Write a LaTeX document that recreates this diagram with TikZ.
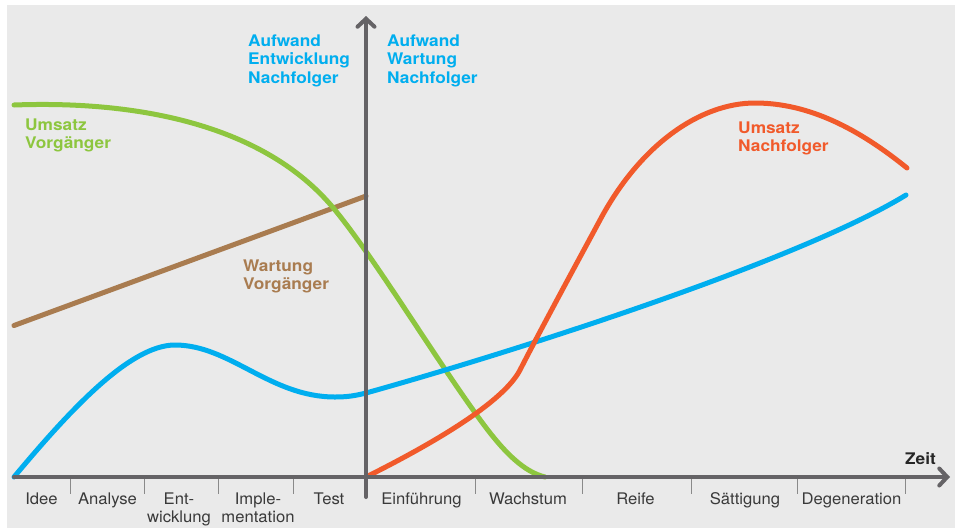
\documentclass[tikz,border=0pt]{standalone}
\usepackage{fontspec}
\setmainfont{TeX Gyre Heros}[FakeStretch=1.04, BoldFeatures={FakeStretch=1.08}]
\usetikzlibrary{arrows.meta}
\definecolor{bgc}{HTML}{EAEAEA}
\definecolor{axc}{HTML}{656366}
\definecolor{tickc}{HTML}{8A8A8A}
\definecolor{txtc}{HTML}{3A3A3A}
\definecolor{grn}{HTML}{8DC63F}
\definecolor{blu}{HTML}{00AEEF}
\definecolor{org}{HTML}{F15A2B}
\definecolor{brn}{HTML}{A97C50}
\tikzset{
  curve/.style={line width=5pt, line cap=round, line join=round},
  axisline/.style={draw=axc, line width=4pt, line cap=round},
  tickline/.style={draw=tickc, line width=1pt},
  phase/.style={font=\fontsize{16}{17.5}\selectfont, text=txtc, align=center, anchor=base, inner sep=0pt},
  lab/.style={font=\bfseries\fontsize{16}{18.5}\selectfont, align=left, anchor=base west, inner sep=0pt},
}
\begin{document}
\begin{tikzpicture}[x=1pt,y=-1pt]
\useasboundingbox (0,0) rectangle (960,528);
\fill[bgc] (7,5) rectangle (955,528);

% curves
\draw[curve, brn] (14,325.5) -- (366,196);
\draw[curve, grn] (14,105) .. controls (150,100) and (270,130) .. (335,210)
  .. controls (375,259) and (430,350) .. (476,414)
  .. controls (505,455) and (525,472) .. (545,477);
\draw[curve, blu] (14,477) .. controls (70,410) and (130,345) .. (175,345)
  .. controls (230,345) and (270,397) .. (335,397)
  .. controls (348,397) and (356,395.5) .. (366,393)
  .. controls (520,350) and (800,260) .. (906,195);
\draw[curve, org] (366,477) .. controls (430,445) and (503,403) .. (520,370)
  .. controls (543,325) and (585,248) .. (600,220)
  .. controls (640,145) and (700,103) .. (755,103)
  .. controls (810,103) and (860,130) .. (907,168);

% ticks
\foreach \x in {70.5,144.5,218.5,293,475,582,691,797.5,905}
  \draw[tickline] (\x,478) -- (\x,494);

% axes
\coordinate (o) at (366,477);
\coordinate (xs) at (14,477);
\coordinate (xe) at (950,477);
\coordinate (ys) at (366,497);
\coordinate (ye) at (366,16);
\draw[axisline, -{Straight Barb[length=8pt,width=17pt,line cap=round]}] (xs) -- (xe);
\draw[axisline, -{Straight Barb[length=8pt,width=17pt,line cap=round]}] (ys) -- (ye);

% phase labels (base = last line)
\node[phase] (p1) at (41.5,504.5) {Idee};
\node[phase] (p2) at (107.5,504.5) {Analyse};
\node[phase] (p3) at (179,522) {Ent-\\wicklung};
\node[phase] (p4) at (258,522) {Imple-\\mentation};
\node[phase] (p5) at (329,504.5) {Test};
\node[phase] (p6) at (421.5,504.5) {Einführung};
\node[phase] (p7) at (528,504.5) {Wachstum};
\node[phase] (p8) at (635.5,504.5) {Reife};
\node[phase] (p9) at (745,504.5) {Sättigung};
\node[phase] (p10) at (851.5,504.5) {Degeneration};
\node[font=\bfseries\fontsize{16}{18}\selectfont, text=black!85, anchor=base east, inner sep=0pt] (zeit) at (936,464) {Zeit};

% curve labels (base = last line)
\node[lab, text=blu] (aen) at (248,83) {Aufwand\\Entwicklung\\Nachfolger};
\node[lab, text=blu] (awn) at (387,83) {Aufwand\\Wartung\\Nachfolger};
\node[lab, text=grn] (uv) at (25,148.5) {Umsatz\\Vorgänger};
\node[lab, text=brn] (wv) at (243,289.5) {Wartung\\Vorgänger};
\node[lab, text=org] (un) at (738,151.5) {Umsatz\\Nachfolger};
\end{tikzpicture}
\end{document}
